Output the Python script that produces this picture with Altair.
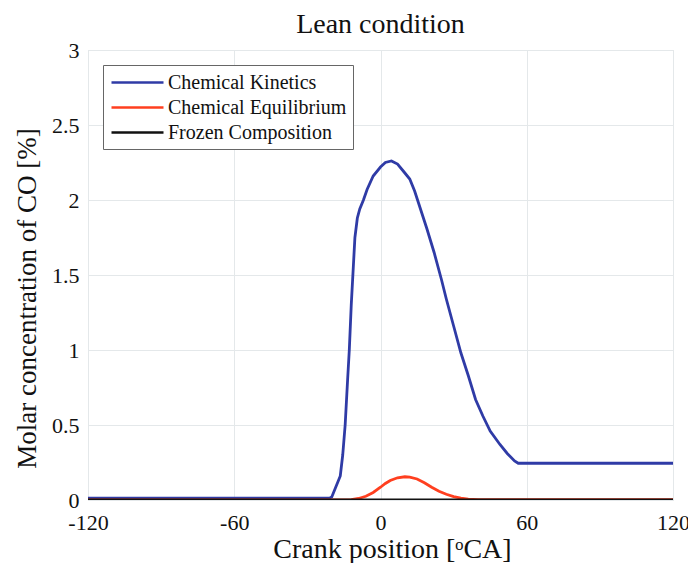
import altair as alt
import pandas as pd

# Chemical Kinetics (blue)
kin_x = [-120, -21, -20, -18.5, -17.5, -16.5, -15.5, -14.5, -13.5, -12.8, -12, -11, -10.5, -9.5, -8.5, -7,
         -5.5, -3, 0, 2, 4.5, 7, 10, 12, 14, 16, 19, 22, 25, 27, 30, 33, 36, 39, 42, 45, 49, 52, 55, 56.5, 120]
kin_y = [0.012, 0.012, 0.02, 0.08, 0.12, 0.16, 0.3, 0.5, 0.8, 1.0, 1.3, 1.6, 1.75, 1.88, 1.94, 2.0,
         2.07, 2.16, 2.22, 2.25, 2.26, 2.24, 2.18, 2.14, 2.06, 1.96, 1.81, 1.65, 1.47, 1.34, 1.16, 0.98, 0.83,
         0.67, 0.56, 0.46, 0.37, 0.31, 0.26, 0.245, 0.245]

# Chemical Equilibrium (red)
eq_x = [-120, -14, -12, -9, -6, -3, 0, 2, 4, 7, 10, 12, 15, 18, 21, 24, 27, 30, 33, 36, 40, 50, 120]
eq_y = [0, 0, 0.003, 0.01, 0.025, 0.05, 0.085, 0.11, 0.13, 0.148, 0.155, 0.153, 0.14, 0.115, 0.085,
        0.058, 0.038, 0.022, 0.012, 0.006, 0.003, 0.002, 0.002]

# Frozen Composition (black)
fr_x = [-120, 120]
fr_y = [0, 0]

series = ["Chemical Kinetics", "Chemical Equilibrium", "Frozen Composition"]
colors = ["#2F3BA6", "#FF3F1F", "#111111"]

rows = []
for name, xs, ys in zip(series, [kin_x, eq_x, fr_x], [kin_y, eq_y, fr_y]):
    for i, (a, b) in enumerate(zip(xs, ys)):
        rows.append({"series": name, "crank": a, "co": b, "i": i})
df = pd.DataFrame(rows)

FONT = "Liberation Serif"

color = alt.Color(
    "series:N",
    scale=alt.Scale(domain=series, range=colors),
    legend=alt.Legend(
        title=None,
        orient="none",
        legendX=15,
        legendY=15,
        symbolType="M-2.6,0H2.6",
        symbolSize=400,
        symbolStrokeWidth=2.6,
        symbolOffset=17,
        labelFont=FONT,
        labelFontSize=20,
        labelColor="#111",
        labelOffset=19,
        labelLimit=300,
        rowPadding=3,
        padding=6,
        strokeColor="#666",
        fillColor="white",
        cornerRadius=0,
    ),
)

axis_common = dict(
    labelFont=FONT,
    labelFontSize=22,
    labelColor="#111",
    labelFlush=False,
    titleFont=FONT,
    titleFontWeight="normal",
    titleColor="#111",
    gridColor="#E4E8EA",
    gridWidth=1,
    domain=False,
    tickSize=0,
)

x = alt.X(
    "crank:Q",
    scale=alt.Scale(domain=[-120, 120], nice=False),
    axis=alt.Axis(
        values=[-120, -60, 0, 60, 120],
        labelExpr="datum.value < 0 ? '-' + abs(datum.value) : '' + datum.value",
        title="Crank position [ᵒCA]",
        titleFontSize=28,
        titleX=304,
        labelPadding=12,
        titlePadding=2,
        **axis_common,
    ),
)
y = alt.Y(
    "co:Q",
    scale=alt.Scale(domain=[0, 3], nice=False),
    axis=alt.Axis(
        values=[0, 0.5, 1, 1.5, 2, 2.5, 3],
        format="~g",
        title="Molar concentration of CO [%]",
        titleFontSize=27,
        titleY=248,
        labelPadding=9,
        titlePadding=10,
        **axis_common,
    ),
)

layers = []
for name in series:
    layers.append(
        alt.Chart(df)
        .transform_filter(alt.datum.series == name)
        .mark_line(strokeWidth=2.8, clip=True)
        .encode(x=x, y=y, color=color, order="i:Q")
    )

chart = (
    alt.layer(*layers)
    .properties(
        width=585,
        height=450,
        title=alt.TitleParams(
            "Lean condition",
            font=FONT,
            fontSize=28,
            fontWeight="normal",
            color="#111",
            offset=0,
        ),
        autosize=alt.AutoSizeParams(type="none"),
        padding={"left": 80, "top": 42, "right": 15, "bottom": 63},
    )
    .configure_view(stroke="#555", strokeWidth=1)
    .configure(background="white")
)

chart.save("out.html", embed_options={"renderer": "svg", "actions": False})
